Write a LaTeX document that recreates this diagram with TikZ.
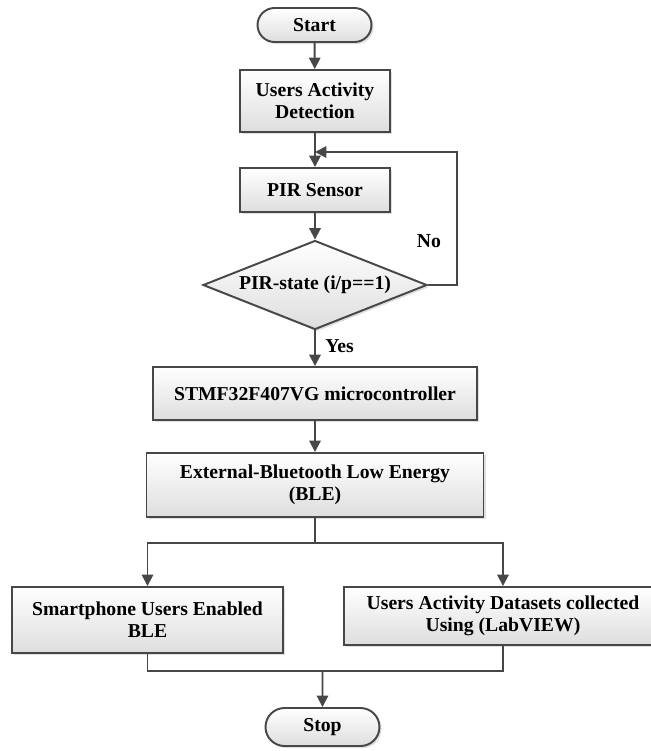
\documentclass[tikz,border=0pt]{standalone}
\usepackage{fontspec}
\setmainfont{Liberation Serif}
\usetikzlibrary{
    arrows.meta,
    positioning,
    shapes.geometric,
    shapes.misc,
    shadows
}
\tikzset{
    % Colors
    line color/.style={black!72},
    %
    % Boxes
    flow base/.style={draw,line color,line width=1.1pt,top color=white,bottom color=black!13,
        drop shadow={shadow xshift=1.2pt,shadow yshift=-1.2pt,opacity=.25},
        text=black,align=center,inner sep=2pt},
    flow box/.style={flow base,rectangle,minimum width=#1},
    terminal/.style={flow base,rounded rectangle,minimum width=24.2mm,minimum height=6.8mm},
    decision/.style={flow base,diamond,aspect=2.52,minimum width=44.8mm,minimum height=17.8mm,inner sep=0pt},
    %
    % Arrows
    arrow tip/.tip={Triangle[width=6.5pt,length=6.5pt]},
    arr/.style={->,>={arrow tip},line color,line width=1.1pt},
    flowline/.style={line color,line width=1.1pt}
}
\tikzstyle{every node}=[font=\bfseries\fontsize{11.2}{12.4}\selectfont]

\begin{document}
\begin{tikzpicture}[x=0.2mm,y=-0.2mm]
        \useasboundingbox (0,0) rectangle (651,751);
        \clip (0,0) rectangle (651,751);
        \node[terminal] (start) at (314.5,25) {Start};
        \node[flow box=30mm,minimum height=12.4mm] (detect) at (315,101) {Users Activity\\Detection};
        \node[flow box=30mm,minimum height=8.8mm] (pir) at (315,190) {PIR Sensor};
        \node[decision] (state) at (315,285) {PIR-state (i/p==1)};
        \node[flow box=64.8mm,minimum height=10.6mm] (mcu) at (315,393.5) {STMF32F407VG microcontroller};
        \node[flow box=67.4mm,minimum height=12.8mm] (ble) at (315,485) {External-Bluetooth Low Energy\\(BLE)};
        \node[flow box=54.2mm,minimum height=13.2mm] (phone) at (147.5,620) {Smartphone Users Enabled\\BLE};
        \node[flow box=63.6mm,minimum height=11.6mm] (data) at (503,616) {Users Activity Datasets collected\\Using (LabVIEW)};
        \node[terminal,minimum height=7.6mm] (stop) at (322.5,727) {Stop};

        \coordinate (join) at (315,152);
        \coordinate (loop) at (457,152);
        \coordinate (split) at (315,543);
        \coordinate (merge) at (322.5,671);

        \draw[arr] (start) -- (detect);
        \draw[arr] (detect) -- (pir);
        \draw[arr] (pir) -- (state);
        \draw[arr] (state.east) -| (loop) -- (join);
        \node (no) at (429,241) {No};
        \draw[arr] (state) -- (mcu) node[pos=.45, right=2pt, text=black] (yes) {Yes};
        \draw[arr] (mcu) -- (ble);

        \draw[flowline] (ble) -- (split);
        \draw[arr] (split) -| (phone);
        \draw[arr] (split) -| (data);
        \draw[flowline] (phone) |- (merge) -| (data);
        \draw[arr] (merge) -- (stop);
    \end{tikzpicture}
\end{document}
